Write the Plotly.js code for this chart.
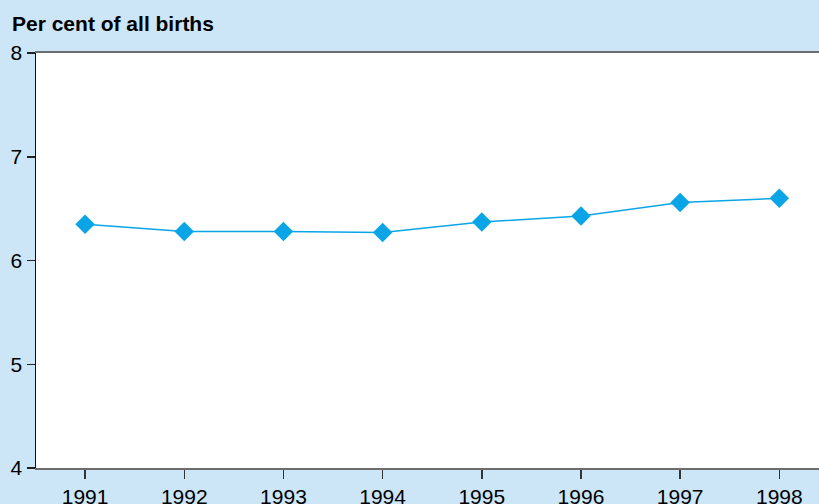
<!DOCTYPE html>
<html>
<head>
<meta charset="utf-8">
<script src="https://cdn.plot.ly/plotly-3.0.1.min.js"></script>
<style>html,body{margin:0;padding:0;background:#cce6f7;}#chart{width:819px;height:504px;}</style>
</head>
<body>
<div id="chart"></div>
<script>
const years = [1991, 1992, 1993, 1994, 1995, 1996, 1997, 1998];
const percentOfBirths = [6.35, 6.28, 6.28, 6.27, 6.37, 6.43, 6.56, 6.60];
const yTicks = [4, 5, 6, 7, 8];

const trace = {
  x: years,
  y: percentOfBirths,
  type: 'scatter',
  mode: 'lines+markers',
  line: {color: '#0aa5e6', width: 1.5},
  marker: {symbol: 'diamond', size: 15, color: '#0aa5e6'},
  hoverinfo: 'x+y'
};

const layout = {
  width: 819,
  height: 504,
  paper_bgcolor: '#cce6f7',
  plot_bgcolor: '#ffffff',
  margin: {l: 36, r: 0, t: 53, b: 36, pad: 0},
  font: {family: 'Liberation Sans, Arial, sans-serif', size: 21, color: '#000000'},
  showlegend: false,
  title: {
    text: '<b>Per cent of all births</b>',
    font: {family: 'Liberation Sans, Arial, sans-serif', size: 21, color: '#000000'},
    xref: 'container', yref: 'container',
    x: 12/819, xanchor: 'left',
    y: 1 - 24/504, yanchor: 'middle'
  },
  xaxis: {
    range: [1990.505, 1998.40],
    tickvals: years,
    ticktext: years.map(String),
    ticks: 'outside', ticklen: 9, tickwidth: 1.5, tickcolor: '#333333',
    showline: true, linecolor: '#6d6d6d', linewidth: 2, mirror: true,
    showgrid: false, zeroline: false,
    tickfont: {size: 21}
  },
  yaxis: {
    range: [4, 8],
    tickvals: yTicks,
    ticks: 'outside', ticklen: 8, tickwidth: 1.5, tickcolor: '#222222',
    showline: true, linecolor: '#111111', linewidth: 1.5,
    showgrid: false, zeroline: false,
    tickfont: {size: 21}
  }
};

Plotly.newPlot('chart', [trace], layout, {displayModeBar: false, staticPlot: true});
</script>
</body>
</html>
